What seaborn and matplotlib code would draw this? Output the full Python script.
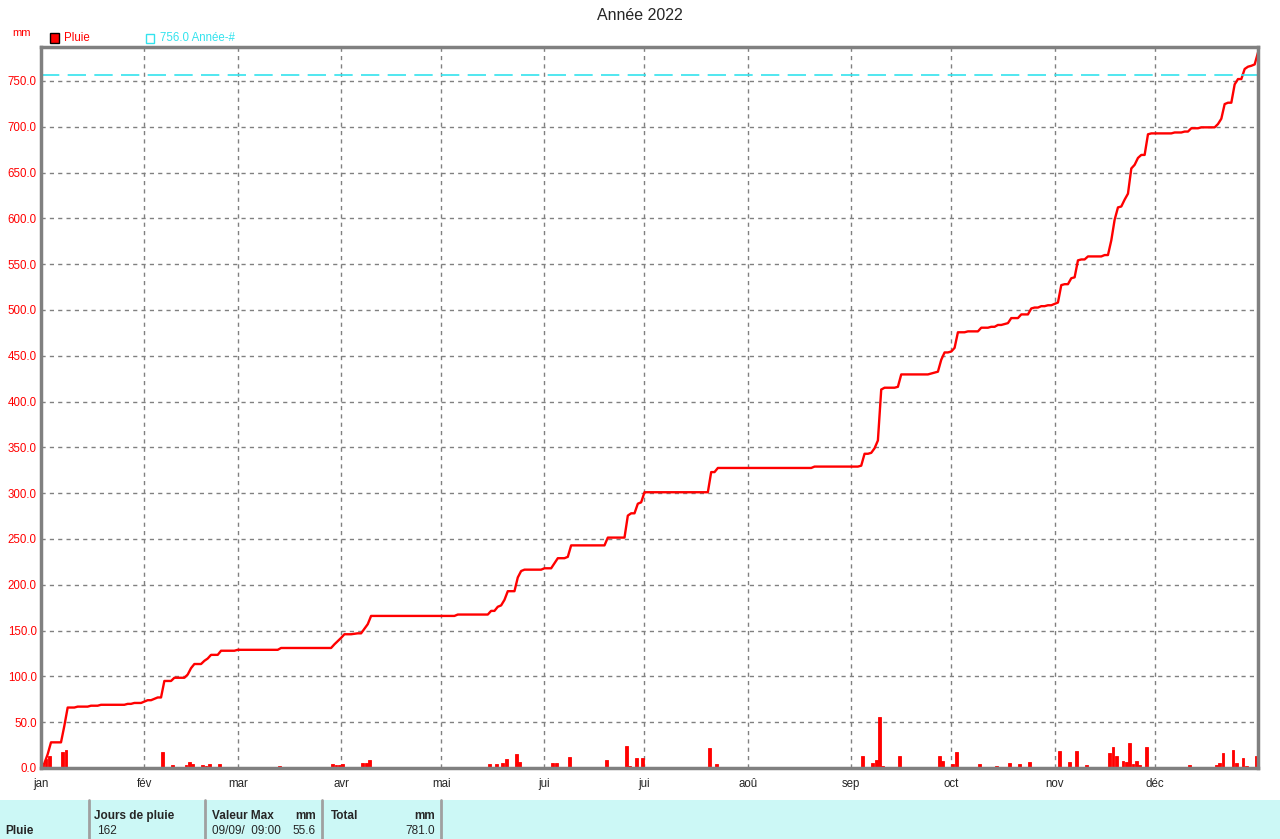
import numpy as np
import pandas as pd
import matplotlib
matplotlib.use('Agg')
import matplotlib.pyplot as plt
import seaborn as sns
from matplotlib.patches import Rectangle
from matplotlib.lines import Line2D

# Daily rain (mm), only rainy days listed
year = 2022
rain_dates = [
    '01-01', '01-02', '01-03', '01-07', '01-08', '01-11', '01-15', '01-18', '01-26', '01-28', '01-31',
    '02-01', '02-03', '02-04', '02-06', '02-09', '02-13', '02-14', '02-15', '02-18', '02-19', '02-20', '02-23', '02-28',
    '03-13', '03-29', '03-30', '03-31',
    '04-01', '04-04', '04-05', '04-07', '04-08', '04-09',
    '05-05', '05-15', '05-17', '05-18', '05-19', '05-20', '05-23', '05-24', '05-25', '05-31',
    '06-03', '06-04', '06-07', '06-08', '06-19', '06-25', '06-26', '06-28', '06-29', '06-30',
    '07-20', '07-22',
    '08-20',
    '09-03', '09-04', '09-06', '09-07', '09-08', '09-09', '09-10', '09-14', '09-15', '09-24', '09-25', '09-26',
    '09-27', '09-28', '09-30',
    '10-01', '10-02', '10-05', '10-09', '10-12', '10-14', '10-16', '10-17', '10-18', '10-21', '10-24', '10-25',
    '10-27', '10-29', '10-31',
    '11-01', '11-02', '11-03', '11-05', '11-06', '11-07', '11-08', '11-10', '11-15', '11-17', '11-18', '11-19',
    '11-20', '11-21', '11-22', '11-23', '11-24', '11-25', '11-26', '11-28', '11-29',
    '12-06', '12-09', '12-11', '12-14', '12-19', '12-20', '12-21', '12-22', '12-24', '12-25', '12-27', '12-28',
    '12-29', '12-30', '12-31',
]
rain_mm = [
    5, 10, 13, 18, 20, 1, 1, 1, 1, 1, 1.5,
    1.5, 1.5, 1.5, 18, 3.5, 3.5, 7, 4.5, 3.5, 2.5, 4, 4.5, 1,
    2, 4, 3.5, 3.5,
    4, 0.5, 0.5, 5, 5, 9,
    1.5, 4, 4.5, 1.5, 6, 9.5, 15, 7, 1.5, 1.5,
    5.5, 5.5, 1.5, 12.5, 8.5, 24, 2.5, 10.5, 1.5, 11,
    22, 4.5,
    1.5,
    1, 13, 1, 5, 8.5, 55.6, 2, 1, 13.5, 1, 1, 1,
    13, 8, 1,
    4, 17, 1, 4, 1, 2, 1, 1, 5.5, 4, 6.5, 1,
    1.5, 1, 1.5,
    1.5, 19, 1, 6.5, 1, 18.5, 1, 3.3, 1.5, 16, 22.5, 13.5,
    1, 7.5, 6.5, 27.5, 4, 7.5, 3.3, 22.5, 1,
    1, 1, 3.6, 1, 3.6, 5.8, 16, 1.5, 20, 5.8, 11, 2.5,
    1, 1.5, 13,
]
month_labels = ['jan', 'fév', 'mar', 'avr', 'mai', 'jui', 'jui', 'aoû', 'sep', 'oct', 'nov', 'déc']
ref_value = 756.0
ref_label = '756.0 Année-#'
rain_days = 162
max_when = '09/09/  09:00'

# Build the full year
days = pd.date_range(f'{year}-01-01', f'{year}-12-31', freq='D')
daily = pd.Series(0.0, index=days)
daily[pd.to_datetime([f'{year}-{d}' for d in rain_dates])] = rain_mm
bars = pd.DataFrame({'day': np.arange(len(days)) + 0.5, 'mm': daily.values})
cumul = pd.DataFrame({'day': np.arange(len(days) + 1),
                      'total': np.r_[0.0, daily.cumsum().values]})
month_starts = np.where(days.is_month_start)[0]

sns.set_style('white')
plt.rcParams['font.family'] = ['Liberation Sans', 'DejaVu Sans']

W, H = 1280, 839
fig = plt.figure(figsize=(W / 100, H / 100), dpi=100)
ax = fig.add_axes([41 / W, 1 - 768 / H, (1258 - 41) / W, (768 - 47) / H])

sns.barplot(data=bars, x='day', y='mm', native_scale=True, color='red', saturation=1,
            errorbar=None, width=0.85, linewidth=0.6, edgecolor='red', ax=ax)
sns.lineplot(data=cumul, x='day', y='total', color='red', lw=1.7, ax=ax)
ax.axhline(ref_value, color='#33e3ee', lw=1.2, dashes=(11, 5))

ax.set_xlim(0, len(days))
ax.set_ylim(0, 787)
ax.set_yticks(np.arange(0, 751, 50))
ax.set_yticklabels([f'{v:.1f}' for v in np.arange(0, 751, 50)], color='red')
ax.set_xticks(month_starts)
ax.set_xticklabels(month_labels)
ax.set_xlabel('')
ax.set_ylabel('')
ax.tick_params(axis='both', length=0, labelsize=8.3)
ax.tick_params(axis='x', pad=7)
ax.tick_params(axis='y', pad=3)
ax.grid(True, color='#808080', ls=(0, (3, 3)), lw=1)
for s in ax.spines.values():
    s.set_color('#808080')
    s.set_linewidth(2.5)

# Title and legend
fig.text(0.5, 1 - 15 / H, f'Année {year}', ha='center', va='center', fontsize=11.5)
fig.text(22 / W, 1 - 33 / H, 'mm', ha='center', va='center', fontsize=8, color='red')
fig.patches.append(Rectangle((50 / W, 1 - 43 / H), 9 / W, 10 / H, transform=fig.transFigure,
                             facecolor='red', edgecolor='black', lw=1))
fig.text(64 / W, 1 - 38 / H, 'Pluie', va='center', fontsize=8.3, color='red')
fig.patches.append(Rectangle((146 / W, 1 - 43 / H), 8 / W, 9 / H, transform=fig.transFigure,
                             facecolor='none', edgecolor='#33e3ee', lw=1))
fig.text(160 / W, 1 - 38 / H, ref_label, va='center', fontsize=8.3, color='#33e3ee')

# Summary table
fig.patches.append(Rectangle((0, 0), 1, 39 / H, transform=fig.transFigure,
                             facecolor='#ccf8f6', edgecolor='none'))
for xs in [89, 205, 322, 441]:
    fig.lines.append(Line2D([xs / W, xs / W], [0, 39 / H], transform=fig.transFigure,
                            color='#a0a0a0', lw=2))
hy, ry = 1 - 816 / H, 1 - 831 / H
fig.text(94 / W, hy, 'Jours de pluie', va='center', fontsize=8.5, weight='bold')
fig.text(212 / W, hy, 'Valeur Max', va='center', fontsize=8.5, weight='bold')
fig.text(316 / W, hy, 'mm', va='center', ha='right', fontsize=8.5, weight='bold')
fig.text(331 / W, hy, 'Total', va='center', fontsize=8.5, weight='bold')
fig.text(435 / W, hy, 'mm', va='center', ha='right', fontsize=8.5, weight='bold')
fig.text(5 / W, ry, 'Pluie', va='center', fontsize=8.5, weight='bold')
fig.text(97 / W, ry, str(rain_days), va='center', fontsize=8.5)
fig.text(212 / W, ry, max_when, va='center', fontsize=8.5)
fig.text(316 / W, ry, f'{daily.max():.1f}', va='center', ha='right', fontsize=8.5)
fig.text(435 / W, ry, f'{daily.sum():.1f}', va='center', ha='right', fontsize=8.5)

fig.savefig('out.png', dpi=100)
